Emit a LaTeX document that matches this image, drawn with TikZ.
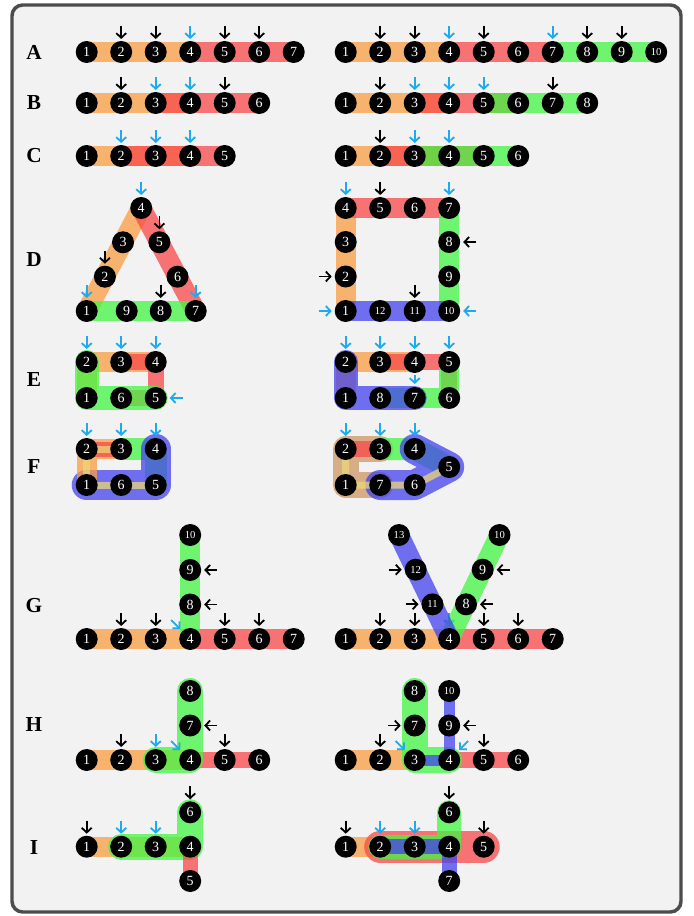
\documentclass[tikz,border=0pt]{standalone}
\usepackage{fontspec}
\setmainfont{Liberation Serif}
\usetikzlibrary{arrows.meta,calc}
\definecolor{cor}{RGB}{250,159,66}
\definecolor{cre}{RGB}{249,73,73}
\definecolor{cgr}{RGB}{66,246,66}
\definecolor{cbl}{RGB}{66,66,239}
\definecolor{cta}{RGB}{205,150,100}
\definecolor{clt}{RGB}{235,215,120}
\definecolor{arrblue}{RGB}{30,170,240}
\pgfdeclarelayer{back}\pgfdeclarelayer{bars}
\pgfsetlayers{back,bars,main}
\newcommand\nlab[1]{\ifnum#1>9 \fontsize{8}{8}\selectfont\fi#1}
\newcommand\mkrow[4]{\foreach \i in {1,...,#4}{\node[nd] (#1\i) at ({#2+(\i-1)*34.5},#3) {\nlab{\i}};}}
\newcommand\arrA[2]{\draw[#1] ($(#2)+(0,-26)$) -- ($(#2)+(0,-13)$);}
\newcommand\arrL[2]{\draw[#1] ($(#2)+(-27,0)$) -- ($(#2)+(-14,0)$);}
\newcommand\arrR[2]{\draw[#1] ($(#2)+(27,0)$) -- ($(#2)+(14,0)$);}
\newcommand\arrUL[2]{\draw[#1] ($(#2)+(-19,-19)$) -- ($(#2)+(-10,-10)$);}
\newcommand\arrUR[2]{\draw[#1] ($(#2)+(19,-19)$) -- ($(#2)+(10,-10)$);}
\begin{document}
\begin{tikzpicture}[x=0.75pt,y=-0.75pt,
  nd/.style={circle, fill=black, minimum size=16.5pt, inner sep=0pt, text=white, font=\fontsize{10.5}{10.5}\selectfont},
  nds/.style={nd, font=\fontsize{8}{8}\selectfont},
  lbl/.style={font=\fontsize{16}{16}\selectfont\bfseries},
  seg/.style={line cap=round, line join=round, draw opacity=0.75},
  sOr/.style={seg, draw=cor}, sRe/.style={seg, draw=cre}, sGr/.style={seg, draw=cgr},
  sBl/.style={seg, draw=cbl}, sTa/.style={seg, draw=cta}, sLt/.style={seg, draw=clt},
  w7/.style={line width=5.25pt}, w11/.style={line width=8.25pt}, w15/.style={line width=11.25pt},
  w16/.style={line width=12pt}, w20/.style={line width=15pt}, w22/.style={line width=16.5pt},
  w24/.style={line width=18pt}, w26/.style={line width=19.5pt}, w30/.style={line width=22.5pt},
  w32/.style={line width=24pt},
  arr/.style={-{Straight Barb[length=3.5pt,width=7.5pt]}, line width=1.35pt},
  blk/.style={arr, draw=black}, blu/.style={arr, draw=arrblue}]
\useasboundingbox (0,0) rectangle (693,916);
\begin{pgfonlayer}{back}
\fill[white] (0,0) rectangle (693,916);
\draw[line width=2.6pt, draw=black!70, fill=black!5, rounded corners=8pt] (12,5) rectangle (681,912);
\end{pgfonlayer}
% labels
\node[lbl] (labA) at (34,52) {A};
\node[lbl] (labB) at (34,103) {B};
\node[lbl] (labC) at (34,156) {C};
\node[lbl] (labD) at (34,260) {D};
\node[lbl] (labE) at (34,380) {E};
\node[lbl] (labF) at (34,467) {F};
\node[lbl] (labG) at (34,606) {G};
\node[lbl] (labH) at (34,725) {H};
\node[lbl] (labI) at (34,848) {I};
% rows A-C
\mkrow{al}{86.7}{52}{7}
\mkrow{ar}{345.7}{52}{10}
\mkrow{bl}{86.7}{103}{6}
\mkrow{br}{345.7}{103}{8}
\mkrow{cl}{86.7}{156}{5}
\mkrow{cr}{345.7}{156}{6}
% D
\node[nd] (dl1) at (86.7,311) {1};
\node[nd] (dl2) at (104.9,276.7) {2};
\node[nd] (dl3) at (123.0,242.3) {3};
\node[nd] (dl4) at (141.2,208) {4};
\node[nd] (dl5) at (159.4,242.3) {5};
\node[nd] (dl6) at (177.5,276.7) {6};
\node[nd] (dl7) at (195.7,311) {7};
\node[nd] (dl8) at (160.7,311) {8};
\node[nd] (dl9) at (126.7,311) {9};
\node[nd] (dr1) at (345.7,311) {1};
\node[nd] (dr2) at (345.7,276.5) {2};
\node[nd] (dr3) at (345.7,242) {3};
\node[nd] (dr4) at (345.7,208) {4};
\node[nd] (dr5) at (380.2,208) {5};
\node[nd] (dr6) at (414.7,208) {6};
\node[nd] (dr7) at (449.2,208) {7};
\node[nd] (dr8) at (449.2,242) {8};
\node[nd] (dr9) at (449.2,276.5) {9};
\node[nds] (dr10) at (449.2,311) {10};
\node[nds] (dr11) at (414.7,311) {11};
\node[nds] (dr12) at (380.2,311) {12};
% E
\node[nd] (el2) at (86.7,362) {2};
\node[nd] (el3) at (121.2,362) {3};
\node[nd] (el4) at (155.7,362) {4};
\node[nd] (el1) at (86.7,398) {1};
\node[nd] (el6) at (121.2,398) {6};
\node[nd] (el5) at (155.7,398) {5};
\node[nd] (er2) at (345.7,362) {2};
\node[nd] (er3) at (380.2,362) {3};
\node[nd] (er4) at (414.7,362) {4};
\node[nd] (er5) at (449.2,362) {5};
\node[nd] (er1) at (345.7,398) {1};
\node[nd] (er8) at (380.2,398) {8};
\node[nd] (er7) at (414.7,398) {7};
\node[nd] (er6) at (449.2,398) {6};
% F
\node[nd] (fl2) at (86.7,449) {2};
\node[nd] (fl3) at (121.2,449) {3};
\node[nd] (fl4) at (155.7,449) {4};
\node[nd] (fl1) at (86.7,485) {1};
\node[nd] (fl6) at (121.2,485) {6};
\node[nd] (fl5) at (155.7,485) {5};
\node[nd] (fr2) at (345.7,449) {2};
\node[nd] (fr3) at (380.2,449) {3};
\node[nd] (fr4) at (414.7,449) {4};
\node[nd] (fr5) at (449.2,467) {5};
\node[nd] (fr1) at (345.7,485) {1};
\node[nd] (fr7) at (380.2,485) {7};
\node[nd] (fr6) at (414.7,485) {6};
% G
\mkrow{gl}{86.7}{639}{7}
\node[nd] (gl8) at (190.2,604.5) {8};
\node[nd] (gl9) at (190.2,570) {9};
\node[nds] (gl10) at (190.2,535) {10};
\mkrow{gr}{345.7}{639}{7}
\node[nd] (gr8) at (466,604.3) {8};
\node[nd] (gr9) at (482.7,569.7) {9};
\node[nds] (gr10) at (499.5,535) {10};
\node[nds] (gr11) at (432.5,604.3) {11};
\node[nds] (gr12) at (415.7,569.7) {12};
\node[nds] (gr13) at (399,535) {13};
% H
\mkrow{hl}{86.7}{760}{6}
\node[nd] (hl7) at (190.2,725.5) {7};
\node[nd] (hl8) at (190.2,691) {8};
\mkrow{hr}{345.7}{760}{6}
\node[nd] (hr7) at (414.7,725.5) {7};
\node[nd] (hr8) at (414.7,691) {8};
\node[nd] (hr9) at (449.2,725.5) {9};
\node[nds] (hr10) at (449.2,691) {10};
% I
\mkrow{il}{86.7}{846.7}{4}
\node[nd] (il6) at (190.2,812.3) {6};
\node[nd] (il5) at (190.2,881) {5};
\mkrow{ir}{345.7}{846.7}{5}
\node[nd] (ir6) at (449.2,812.3) {6};
\node[nd] (ir7) at (449.2,881) {7};

\begin{pgfonlayer}{bars}
% A
\draw[sOr,w20] (al1.center)--(al2.center)--(al3.center)--(al4.center);
\draw[sRe,w20] (al4.center)--(al5.center)--(al6.center)--(al7.center);
\draw[sOr,w20] (ar1.center)--(ar2.center)--(ar3.center)--(ar4.center);
\draw[sRe,w20] (ar4.center)--(ar5.center)--(ar6.center)--(ar7.center);
\draw[sGr,w20] (ar7.center)--(ar8.center)--(ar9.center)--(ar10.center);
% B
\draw[sOr,w20] (bl1.center)--(bl2.center)--(bl3.center)--(bl4.center);
\draw[sRe,w20] (bl3.center)--(bl4.center)--(bl5.center)--(bl6.center);
\draw[sOr,w20] (br1.center)--(br2.center)--(br3.center)--(br4.center);
\draw[sRe,w20] (br3.center)--(br4.center)--(br5.center)--(br6.center);
\draw[sGr,w20] (br5.center)--(br6.center)--(br7.center)--(br8.center);
% C
\draw[sOr,w20] (cl1.center)--(cl2.center)--(cl3.center)--(cl4.center);
\draw[sRe,w20] (cl2.center)--(cl3.center)--(cl4.center)--(cl5.center);
\draw[sOr,w20] (cr1.center)--(cr2.center)--(cr3.center)--(cr4.center);
\draw[sRe,w20] (cr2.center)--(cr3.center)--(cr4.center)--(cr5.center);
\draw[sGr,w20] (cr3.center)--(cr4.center)--(cr5.center)--(cr6.center);
% D
\draw[sOr,w20] (dl1.center)--(dl2.center)--(dl3.center)--(dl4.center);
\draw[sRe,w20] (dl4.center)--(dl5.center)--(dl6.center)--(dl7.center);
\draw[sGr,w20] (dl7.center)--(dl8.center)--(dl9.center)--(dl1.center);
\draw[sOr,w20] (dr1.center)--(dr2.center)--(dr3.center)--(dr4.center);
\draw[sRe,w20] (dr4.center)--(dr5.center)--(dr6.center)--(dr7.center);
\draw[sGr,w20] (dr7.center)--(dr8.center)--(dr9.center)--(dr10.center);
\draw[sBl,w20] (dr10.center)--(dr11.center)--(dr12.center)--(dr1.center);
% E
\draw[sOr,w20] (el1.center)--(el2.center)--(el3.center)--(el4.center);
\draw[sRe,w16] (el3.center)--(el4.center)--(el5.center)--(el6.center);
\draw[sGr,w24] (el5.center)--(el6.center)--(el1.center)--(el2.center);
\draw[sOr,w20] (er1.center)--(er2.center)--(er3.center)--(er4.center);
\draw[sRe,w16] (er3.center)--(er4.center)--(er5.center)--(er6.center);
\draw[sGr,w20] (er5.center)--(er6.center)--(er7.center)--(er8.center);
\draw[sBl,w24] (er7.center)--(er8.center)--(er1.center)--(er2.center);
% F
\draw[sGr,w22] (fl3.center)--(fl4.center)--(fl5.center);
\draw[sBl,w30] (fl1.center)--(fl6.center)--(fl5.center)--(fl4.center);
\draw[sOr,w20] (fl1.center)--(fl2.center)--(fl3.center);
\draw[sRe,w15] (fl2.center)--(fl3.center);
\draw[sLt,w7] (fl5.center)--(fl6.center)--(fl1.center)--(fl2.center)--(fl3.center);
\draw[sTa,w26] (fr7.center)--(fr1.center)--(fr2.center)--(fr3.center);
\draw[sRe,w16] (fr2.center)--(fr3.center);
\draw[sGr,w22] (fr3.center)--(fr4.center)--(fr5.center);
\draw[sBl,w30] (fr7.center)--(fr6.center)--(fr5.center)--(fr4.center);
\draw[sLt,w7] (fr5.center)--(fr6.center)--(fr7.center)--(fr1.center)--(fr2.center);
% G
\draw[sOr,w20] (gl1.center)--(gl2.center)--(gl3.center)--(gl4.center);
\draw[sRe,w20] (gl4.center)--(gl5.center)--(gl6.center)--(gl7.center);
\draw[sGr,w20] (gl4.center)--(gl8.center)--(gl9.center)--(gl10.center);
\arrA{blu}{gr4}
\draw[sOr,w20] (gr1.center)--(gr2.center)--(gr3.center)--(gr4.center);
\draw[sRe,w20] (gr4.center)--(gr5.center)--(gr6.center)--(gr7.center);
\draw[sGr,w20] (gr4.center)--(gr8.center)--(gr9.center)--(gr10.center);
\draw[sBl,w20] (gr4.center)--(gr11.center)--(gr12.center)--(gr13.center);
% H
\draw[sOr,w20] (hl1.center)--(hl2.center)--(hl3.center)--(hl4.center);
\draw[sRe,w16] (hl4.center)--(hl5.center)--(hl6.center);
\draw[sGr,w26] (hl3.center)--(hl4.center)--(hl7.center)--(hl8.center);
\draw[sOr,w20] (hr1.center)--(hr2.center)--(hr3.center);
\draw[sRe,w16] (hr4.center)--(hr5.center)--(hr6.center);
\draw[sGr,w26] (hr8.center)--(hr7.center)--(hr3.center)--(hr4.center);
\draw[sBl,w11] (hr10.center)--(hr9.center)--(hr4.center)--(hr3.center);
% I
\draw[sOr,w20] (il1.center)--(il2.center)--(il3.center)--(il4.center);
\draw[sGr,w26] (il2.center)--(il3.center)--(il4.center)--(il6.center);
\draw[sRe,w15] (il4.center)--(il5.center);
\draw[sOr,w20] (ir1.center)--(ir2.center);
\draw[sRe,w32] (ir2.center)--(ir3.center)--(ir4.center)--(ir5.center);
\draw[sGr,w24] (ir2.center)--(ir3.center)--(ir4.center)--(ir6.center);
\draw[sBl,w15] (ir2.center)--(ir3.center)--(ir4.center)--(ir7.center);
\end{pgfonlayer}

% arrows
\arrA{blk}{al2}\arrA{blk}{al3}\arrA{blu}{al4}\arrA{blk}{al5}\arrA{blk}{al6}
\arrA{blk}{ar2}\arrA{blk}{ar3}\arrA{blu}{ar4}\arrA{blk}{ar5}\arrA{blu}{ar7}\arrA{blk}{ar8}\arrA{blk}{ar9}
\arrA{blk}{bl2}\arrA{blu}{bl3}\arrA{blu}{bl4}\arrA{blk}{bl5}
\arrA{blk}{br2}\arrA{blu}{br3}\arrA{blu}{br4}\arrA{blu}{br5}\arrA{blk}{br7}
\arrA{blu}{cl2}\arrA{blu}{cl3}\arrA{blu}{cl4}
\arrA{blk}{cr2}\arrA{blu}{cr3}\arrA{blu}{cr4}
\arrA{blu}{dl4}\arrA{blk}{dl5}\arrA{blk}{dl2}\arrA{blu}{dl1}\arrA{blk}{dl8}\arrA{blu}{dl7}
\arrA{blu}{dr4}\arrA{blk}{dr5}\arrA{blu}{dr7}\arrR{blk}{dr8}\arrL{blk}{dr2}\arrL{blu}{dr1}\arrA{blk}{dr11}\arrR{blu}{dr10}
\arrA{blu}{el2}\arrA{blu}{el3}\arrA{blu}{el4}\arrR{blu}{el5}
\arrA{blu}{er2}\arrA{blu}{er3}\arrA{blu}{er4}\arrA{blu}{er5}
\draw[blu] ($(er7)+(0,-23)$) -- ($(er7)+(0,-14)$);
\arrA{blu}{fl2}\arrA{blu}{fl3}\arrA{blu}{fl4}
\arrA{blu}{fr2}\arrA{blu}{fr3}\arrA{blu}{fr4}
\arrA{blk}{gl2}\arrA{blk}{gl3}\arrA{blk}{gl5}\arrA{blk}{gl6}\arrUL{blu}{gl4}\arrR{blk}{gl8}\arrR{blk}{gl9}
\arrA{blk}{gr2}\arrA{blk}{gr3}\arrA{blk}{gr5}\arrA{blk}{gr6}\arrL{blk}{gr12}\arrL{blk}{gr11}\arrR{blk}{gr8}\arrR{blk}{gr9}
\arrA{blk}{hl2}\arrA{blu}{hl3}\arrUL{blu}{hl4}\arrR{blk}{hl7}\arrA{blk}{hl5}
\arrA{blk}{hr2}\arrUL{blu}{hr3}\arrL{blk}{hr7}\arrR{blk}{hr9}\arrUR{blu}{hr4}\arrA{blk}{hr5}
\arrA{blk}{il1}\arrA{blu}{il2}\arrA{blu}{il3}\arrA{blk}{il6}
\arrA{blk}{ir1}\arrA{blu}{ir2}\arrA{blu}{ir3}\arrA{blk}{ir6}\arrA{blk}{ir5}
\end{tikzpicture}
\end{document}
